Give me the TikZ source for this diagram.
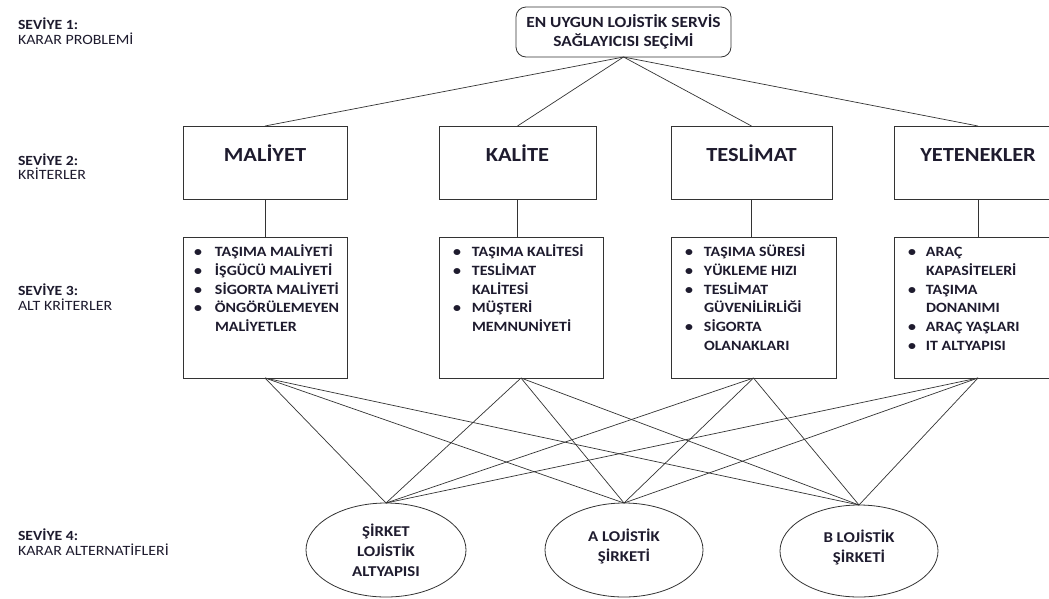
\documentclass[tikz,border=0pt]{standalone}
\usepackage{fontspec}
\setmainfont{Carlito}[FakeStretch=1.12]
\usetikzlibrary{shapes.geometric}
\definecolor{txt}{HTML}{1E1B2E}
\definecolor{ln}{HTML}{333333}
\begin{document}
\begin{tikzpicture}[x=1pt,y=-1pt,
  every node/.style={inner sep=0pt, outer sep=0pt, text=txt},
  box/.style={draw=ln, line width=0.8pt, rectangle},
  crit/.style={box, minimum height=73pt, font=\fontsize{20}{24}\selectfont\bfseries, text height=14pt, text depth=16.4pt},
  subbox/.style={box, minimum height=141pt},
  listtx/.style={anchor=north west, font=\fontsize{14.2}{18.8}\selectfont\bfseries},
  alt/.style={draw=ln, line width=0.8pt, ellipse, align=center, font=\fontsize{15}{20}\selectfont\bfseries},
  lvlb/.style={anchor=base west, font=\fontsize{14}{16}\selectfont\bfseries},
  lvlr/.style={anchor=base west, font=\fontsize{14.2}{16}\selectfont},
  conn/.style={draw=ln, line width=0.7pt}
]
\useasboundingbox[fill=white] (0,0) rectangle (1049,598);

% level labels
\node[lvlb] (l1a) at (18,29.5) {SEVİYE 1:};
\node[lvlr] (l1b) at (18,44) {KARAR PROBLEMİ};
\node[lvlb] (l2a) at (18,165) {SEVİYE 2:};
\node[lvlr] (l2b) at (18,179.5) {KRİTERLER};
\node[lvlb] (l3a) at (18,295) {SEVİYE 3:};
\node[lvlr] (l3b) at (18,310) {ALT KRİTERLER};
\node[lvlb] (l4a) at (18,540) {SEVİYE 4:};
\node[lvlr] (l4b) at (18,555) {KARAR ALTERNATİFLERİ};

% level 1
\node[box, rounded corners=10pt, minimum width=215pt, minimum height=50pt, align=center,
      font=\fontsize{15.5}{19}\selectfont\bfseries] (top) at (623.5,32)
      {EN UYGUN LOJİSTİK SERVİS\\SAĞLAYICISI SEÇİMİ};

% level 2
\node[crit, minimum width=164pt] (mal) at (265,162.5) {MALİYET};
\node[crit, minimum width=157pt] (kal) at (517.5,162.5) {KALİTE};
\node[crit, minimum width=161pt] (tes) at (751.5,162.5) {TESLİMAT};
\node[crit, minimum width=168pt] (yet) at (978,162.5) {YETENEKLER};

% level 3
\node[subbox, minimum width=164pt] (mals) at (265,307.5) {};
\node[subbox, minimum width=164pt] (kals) at (521,307.5) {};
\node[subbox, minimum width=165pt] (tess) at (753.5,307.5) {};
\node[subbox, minimum width=168pt] (yets) at (978,307.5) {};

\node[listtx] (malt) at ([xshift=11pt,yshift=-6.3pt]mals.north west)
 {\begin{tabular}{@{}p{21pt}@{}l@{}}
  \textbullet & TAŞIMA MALİYETİ\\
  \textbullet & İŞGÜCÜ MALİYETİ\\
  \textbullet & SİGORTA MALİYETİ\\
  \textbullet & ÖNGÖRÜLEMEYEN\\
              & MALİYETLER
  \end{tabular}};
\node[listtx] (kalt) at ([xshift=14pt,yshift=-6.3pt]kals.north west)
 {\begin{tabular}{@{}p{19pt}@{}l@{}}
  \textbullet & TAŞIMA KALİTESİ\\
  \textbullet & TESLİMAT\\
              & KALİTESİ\\
  \textbullet & MÜŞTERİ\\
              & MEMNUNİYETİ
  \end{tabular}};
\node[listtx] (test) at ([xshift=14pt,yshift=-6.3pt]tess.north west)
 {\begin{tabular}{@{}p{19pt}@{}l@{}}
  \textbullet & TAŞIMA SÜRESİ\\
  \textbullet & YÜKLEME HIZI\\
  \textbullet & TESLİMAT\\
              & GÜVENİLİRLİĞİ\\
  \textbullet & SİGORTA\\
              & OLANAKLARI
  \end{tabular}};
\node[listtx] (yett) at ([xshift=14pt,yshift=-6.3pt]yets.north west)
 {\begin{tabular}{@{}p{18pt}@{}l@{}}
  \textbullet & ARAÇ\\
              & KAPASİTELERİ\\
  \textbullet & TAŞIMA\\
              & DONANIMI\\
  \textbullet & ARAÇ YAŞLARI\\
  \textbullet & IT ALTYAPISI
  \end{tabular}};

% level 4
\node[alt, minimum width=160pt, minimum height=94pt] (sir) at (386,550) {ŞİRKET\\LOJİSTİK\\ALTYAPISI};
\node[alt, minimum width=158pt, minimum height=94pt, text depth=10pt] (aa) at (624,550) {A LOJİSTİK\\ŞİRKETİ};
\node[alt, minimum width=158pt, minimum height=92pt, text depth=10pt] (bb) at (859,551) {B LOJİSTİK\\ŞİRKETİ};

% connectors
\foreach \c in {mal,kal,tes,yet} \draw[conn] (top.south) -- (\c.north);
\draw[conn] (mal.south) -- (mals.north);
\draw[conn] (kal.south) -- (kal.south |- kals.north);
\draw[conn] (tes.south) -- (tes.south |- tess.north);
\draw[conn] (yet.south) -- (yets.north);
\foreach \s in {mals,kals,tess,yets}
  \foreach \e in {sir,aa,bb}
    \draw[conn] (\s.south) -- (\e.north);
\end{tikzpicture}
\end{document}
